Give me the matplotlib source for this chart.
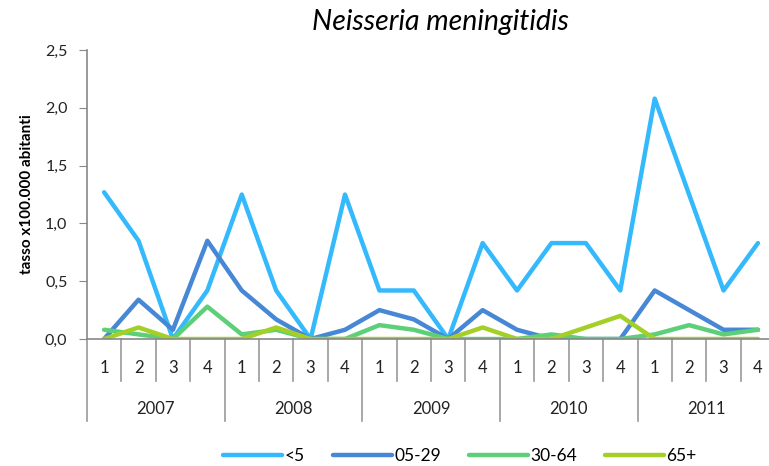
import numpy as np
import matplotlib
matplotlib.use("Agg")
import matplotlib.pyplot as plt
import matplotlib.transforms as mtransforms
from matplotlib.ticker import FuncFormatter

plt.rcParams['font.family'] = ['Lato', 'DejaVu Sans']

# data: rate x100.000 inhabitants, by quarter 2007-2011
years = ['2007', '2008', '2009', '2010', '2011']
quarters = ['1', '2', '3', '4']
under5 = [1.27, 0.85, 0.0, 0.42, 1.25, 0.42, 0.0, 1.25, 0.42, 0.42,
          0.0, 0.83, 0.42, 0.83, 0.83, 0.42, 2.08, 1.25, 0.42, 0.83]
age05_29 = [0.0, 0.34, 0.08, 0.85, 0.42, 0.17, 0.0, 0.08, 0.25, 0.17,
            0.0, 0.25, 0.08, 0.0, 0.0, 0.0, 0.42, 0.25, 0.08, 0.08]
age30_64 = [0.08, 0.04, 0.0, 0.28, 0.04, 0.08, 0.0, 0.0, 0.12, 0.08,
            0.0, 0.0, 0.0, 0.04, 0.0, 0.0, 0.04, 0.12, 0.04, 0.08]
age65 = [0.0, 0.1, 0.0, 0.0, 0.0, 0.1, 0.0, 0.0, 0.0, 0.0,
         0.0, 0.1, 0.0, 0.0, 0.1, 0.2, 0.0, 0.0, 0.0, 0.0]

series = [('<5', under5, '#35b9fd'),
          ('05-29', age05_29, '#4687d6'),
          ('30-64', age30_64, '#5ccf78'),
          ('65+', age65, '#a4cf27')]

n = len(years) * len(quarters)
x = np.arange(n)

fig = plt.figure(figsize=(7.69, 4.66), dpi=100)
ax = fig.add_axes([0.113, 0.2725, 0.895, 0.62])

for label, vals, col in series:
    ax.plot(x, vals, color=col, lw=3.2, label=label, solid_capstyle='round',
            solid_joinstyle='round')

ax.set_xlim(-0.5, n - 0.5)
ax.set_ylim(0, 2.5)
ax.set_yticks(np.arange(0, 2.51, 0.5))
ax.yaxis.set_major_formatter(FuncFormatter(lambda v, p: f'{v:.1f}'.replace('.', ',')))
ax.tick_params(axis='y', length=6, color='#888888', labelsize=11.5, labelcolor='#222222', pad=8)
ax.set_xticks([])
for s in ['top', 'right']:
    ax.spines[s].set_visible(False)
for s in ['left', 'bottom']:
    ax.spines[s].set_color('#888888')
    ax.spines[s].set_linewidth(1.2)

ax.set_ylabel('tasso x100.000 abitanti', fontsize=11, fontweight='bold', labelpad=8)
fig.text(440 / 769, 1 - 22 / 466, 'Neisseria meningitidis', fontsize=20.5, style='italic',
         ha='center', va='center')

# two-level category axis
trans = mtransforms.blended_transform_factory(ax.transData, fig.transFigure)
y0 = 1 - 339 / 466
yq = 1 - 381 / 466
yy = 1 - 421 / 466
for i in range(n + 1):
    xb = i - 0.5
    if i % 4 == 0:
        ax.plot([xb, xb], [y0, yy], transform=trans, color='#999999', lw=1.2, clip_on=False)
    else:
        ax.plot([xb, xb], [y0, yq], transform=trans, color='#999999', lw=1.2, clip_on=False)
for i in range(n):
    ax.text(i, 1 - 368 / 466, quarters[i % 4], transform=trans, ha='center', va='center',
            fontsize=12, color='#222222')
for j, yr in enumerate(years):
    ax.text(j * 4 + 1.5, 1 - 409 / 466, yr, transform=trans, ha='center', va='center',
            fontsize=12, color='#222222')

ax.legend(loc='center', bbox_to_anchor=(460 / 769, 1 - 456 / 466), bbox_transform=fig.transFigure,
          ncol=4, frameon=False, fontsize=12.5, handlelength=3.4, columnspacing=1.6,
          handletextpad=0.15)

fig.savefig('out.png', dpi=100)
